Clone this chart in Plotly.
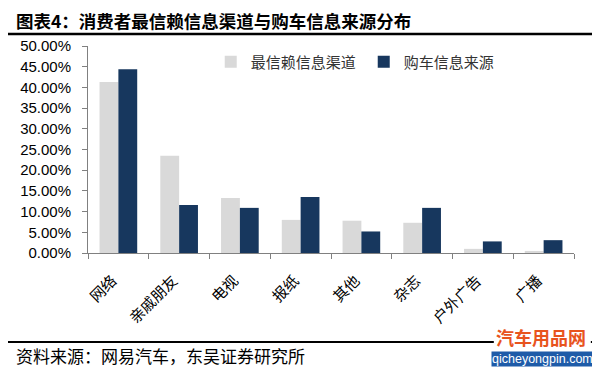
import plotly.graph_objects as go

categories = ["网络", "亲戚朋友", "电视", "报纸", "其他", "杂志", "户外广告", "广播"]
trusted = [41.3, 23.5, 13.3, 8.0, 7.8, 7.3, 1.0, 0.5]
purchase = [44.4, 11.6, 10.9, 13.5, 5.2, 10.9, 2.8, 3.1]
series_names = ["最信赖信息渠道", "购车信息来源"]
y_ticks = [0, 5, 10, 15, 20, 25, 30, 35, 40, 45, 50]

CJK = "Noto Sans CJK SC"

# The page body has an 8px margin, so the figure is placed at (8, 8).
# Helpers convert reference-image pixel positions to paper fractions.
PL, PT, PW, PH = 83, 46, 491, 207


def px(x):
    return (x - PL) / PW


def py(y):
    return (PT + PH - y) / PH


fig = go.Figure()
fig.add_trace(go.Bar(x=categories, y=trusted, name=series_names[0],
                     marker=dict(color="#D9D9D9", line=dict(width=0))))
fig.add_trace(go.Bar(x=categories, y=purchase, name=series_names[1],
                     marker=dict(color="#17375E", line=dict(width=0))))

fig.update_layout(
    width=592, height=361,
    margin=dict(l=75, r=26, t=38, b=116),
    paper_bgcolor="white", plot_bgcolor="white",
    barmode="group", bargap=0.38, bargroupgap=0.0,
    font=dict(family=CJK, color="#000000"),
    showlegend=True,
    legend=dict(orientation="h", x=px(207), y=py(62), xanchor="left", yanchor="middle",
                font=dict(size=15, color="#333333"), entrywidth=108,
                bgcolor="rgba(0,0,0,0)", traceorder="normal"),
    xaxis=dict(type="category", showline=True, linecolor="#808080", linewidth=1,
               ticks="outside", tickson="boundaries", ticklen=5, tickcolor="#808080",
               tickangle=-45, tickfont=dict(size=15, family=CJK, color="#000000"),
               ticklabelstandoff=12, ticklabelshift=-6, showgrid=False),
    yaxis=dict(range=[0, 50], tickvals=y_ticks,
               ticktext=[f"{v:.2f}%" for v in y_ticks],
               showline=True, linecolor="#808080", linewidth=1,
               ticks="outside", ticklen=5, tickcolor="#808080",
               tickfont=dict(size=15, family="Liberation Sans", color="#000000"),
               ticklabelstandoff=8, showgrid=False, zeroline=False),
    shapes=[
        dict(type="line", xref="paper", yref="paper", x0=px(0), x1=px(600),
             y0=py(34), y1=py(34), line=dict(color="#000000", width=2.5)),
        dict(type="line", xref="paper", yref="paper", x0=px(0), x1=px(493),
             y0=py(342), y1=py(342), line=dict(color="#000000", width=2)),
        dict(type="line", xref="paper", yref="paper", x0=px(591), x1=px(600),
             y0=py(342), y1=py(342), line=dict(color="#000000", width=2)),
    ],
    annotations=[
        dict(text="<b>图表4：消费者最信赖信息渠道与购车信息来源分布</b>", xref="paper", yref="paper",
             x=px(8), y=py(20), xanchor="left", yanchor="middle", showarrow=False,
             font=dict(size=17.5, family=CJK, color="#000000")),
        dict(text="资料来源：网易汽车，东吴证券研究所", xref="paper", yref="paper",
             x=px(8), y=py(355), xanchor="left", yanchor="middle", showarrow=False,
             font=dict(size=17, family=CJK, color="#000000")),
        dict(text="<b>汽车用品网</b>", xref="paper", yref="paper",
             x=px(541), y=py(337), xanchor="center", yanchor="middle", showarrow=False,
             font=dict(size=18, family=CJK, color="#E8541E")),
        dict(text="qicheyongpin.com", xref="paper", yref="paper",
             x=px(542), y=py(359), xanchor="center", yanchor="middle", showarrow=False,
             bgcolor="#1E5BA8", borderpad=0,
             font=dict(size=12.5, family="Liberation Sans", color="#FFFFFF")),
    ],
)

fig.write_html("out.html")
